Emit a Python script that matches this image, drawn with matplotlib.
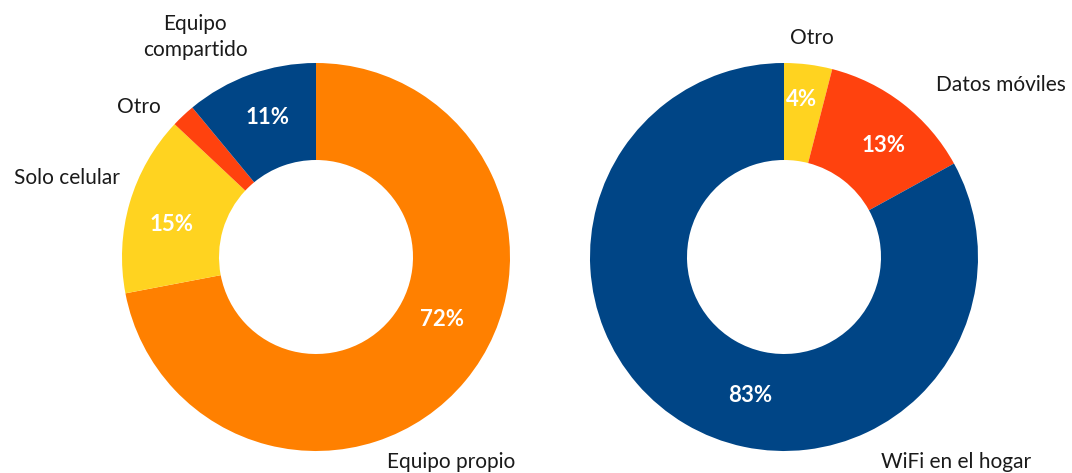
import matplotlib
matplotlib.use("Agg")
import matplotlib.pyplot as plt

# Data
left_labels = ["Equipo propio", "Solo celular", "Otro", "Equipo\ncompartido"]
left_values = [72, 15, 2, 11]
left_pct = ["72%", "15%", "", "11%"]
right_labels = ["Otro", "Datos móviles", "WiFi en el hogar"]
right_values = [4, 13, 83]
right_pct = ["4%", "13%", "83%"]

NAVY = "#004586"
RED = "#ff420e"
YELLOW = "#ffd320"
ORANGE = "#ff8000"
left_colors = [ORANGE, YELLOW, RED, NAVY]
right_colors = [YELLOW, RED, NAVY]

W, H = 1072, 473
fig = plt.figure(figsize=(W / 100, H / 100), dpi=100)
ax = fig.add_axes([0, 0, 1, 1])

FONT = "Lato"
R = 194
WIDTH = 0.5


def py(y):
    return H - y


ax.pie(left_values, colors=left_colors, startangle=90, counterclock=False,
       center=(316, py(257)), radius=R, wedgeprops=dict(width=R * WIDTH, linewidth=0),
       frame=True)
ax.pie(right_values, colors=right_colors, startangle=90, counterclock=False,
       center=(784, py(257)), radius=R, wedgeprops=dict(width=R * WIDTH, linewidth=0),
       frame=True)
ax.set_xlim(0, W)
ax.set_ylim(0, H)
ax.set_aspect("equal")
ax.axis("off")

txt = dict(fontsize=15, color="#1a1a1a", family=FONT, ha="center", va="center")
pct = dict(fontsize=16, color="white", family=FONT, fontweight="bold", ha="center", va="center")

# left category labels
ax.text(451, py(462), left_labels[0], **txt)
ax.text(67, py(178), left_labels[1], **txt)
ax.text(139, py(107), left_labels[2], **txt)
ax.text(195, py(37), left_labels[3], linespacing=1.4, **txt)
# left percentages
ax.text(442, py(320), left_pct[0], **pct)
ax.text(172, py(225), left_pct[1], **pct)
ax.text(268, py(117), left_pct[3], **pct)

# right category labels
ax.text(812, py(38), right_labels[0], **txt)
ax.text(1001, py(85), right_labels[1], **txt)
ax.text(956, py(462), right_labels[2], **txt)
# right percentages
ax.text(802, py(100), right_pct[0], **pct)
ax.text(884, py(145), right_pct[1], **pct)
ax.text(750, py(395), right_pct[2], **pct)

fig.savefig("out.png", dpi=100)
